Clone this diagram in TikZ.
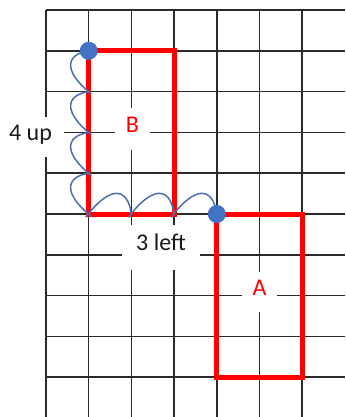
\documentclass[tikz,border=0pt]{standalone}
\usepackage{fontspec}
\setmainfont{Carlito}
\definecolor{gridc}{HTML}{2A2A2A}
\definecolor{hopblue}{HTML}{4A6EB0}
\definecolor{dotblue}{HTML}{4472C4}
\definecolor{rectred}{HTML}{FF0000}
\definecolor{txt}{HTML}{1A1A1A}
\begin{document}
\begin{tikzpicture}[x=1pt,y=-1pt,
  gridline/.style={draw=gridc,line width=1.5pt},
  redbox/.style={draw=rectred,line width=5pt,line join=miter},
  hop/.style={draw=hopblue,line width=1.5pt,line cap=round},
  dotnode/.style={circle,fill=dotblue,inner sep=0pt,minimum size=18pt},
  lbl/.style={fill=white,inner sep=0pt,text=txt,font=\fontsize{24}{24}\selectfont,text height=0.64em,text depth=0pt},
]
\useasboundingbox (0,0) rectangle (345,417);
% grid
\foreach \i in {0,...,6} \draw[gridline] ({46+\i*42.7},10) -- ({46+\i*42.7},417);
\foreach \j in {0,...,9} \draw[gridline] (46,{10+\j*40.8}) -- (345,{10+\j*40.8});
% shapes
\draw[redbox] (88.7,50.8) rectangle (174.1,214);
\draw[redbox] (216.8,214) rectangle (302.2,377.2);
% hops up (drawn downward from the top dot), bulging left
\foreach \j in {1,2,3,4} {
  \pgfmathsetmacro{\yy}{10+\j*40.8}
  \draw[hop] (88.7,\yy) .. controls (63.7,\yy+4) and (64.7,\yy+22) .. (91.2,\yy+43);
}
% hops left, bulging up
\foreach \xx in {216.8,174.1,131.4} {
  \draw[hop] (\xx,214) .. controls (\xx-4,186) and (\xx-22,186) .. (\xx-45.5,217);
}
\node[dotnode] (top) at (88.7,50.8) {};
\node[dotnode] (start) at (216.8,214) {};
% labels
\node[lbl, minimum width=67pt, minimum height=40pt] (lup) at (30.5,137) {4 up};
\node[lbl, text=rectred, minimum width=35pt, minimum height=42pt] (lB) at (132.5,129) {B};
\node[lbl, text=rectred, minimum width=35pt, minimum height=40pt] (lA) at (259.5,292) {A};
\node[lbl, minimum width=78pt, minimum height=45pt] (l3) at (161,247) {3 left};
\end{tikzpicture}
\end{document}
